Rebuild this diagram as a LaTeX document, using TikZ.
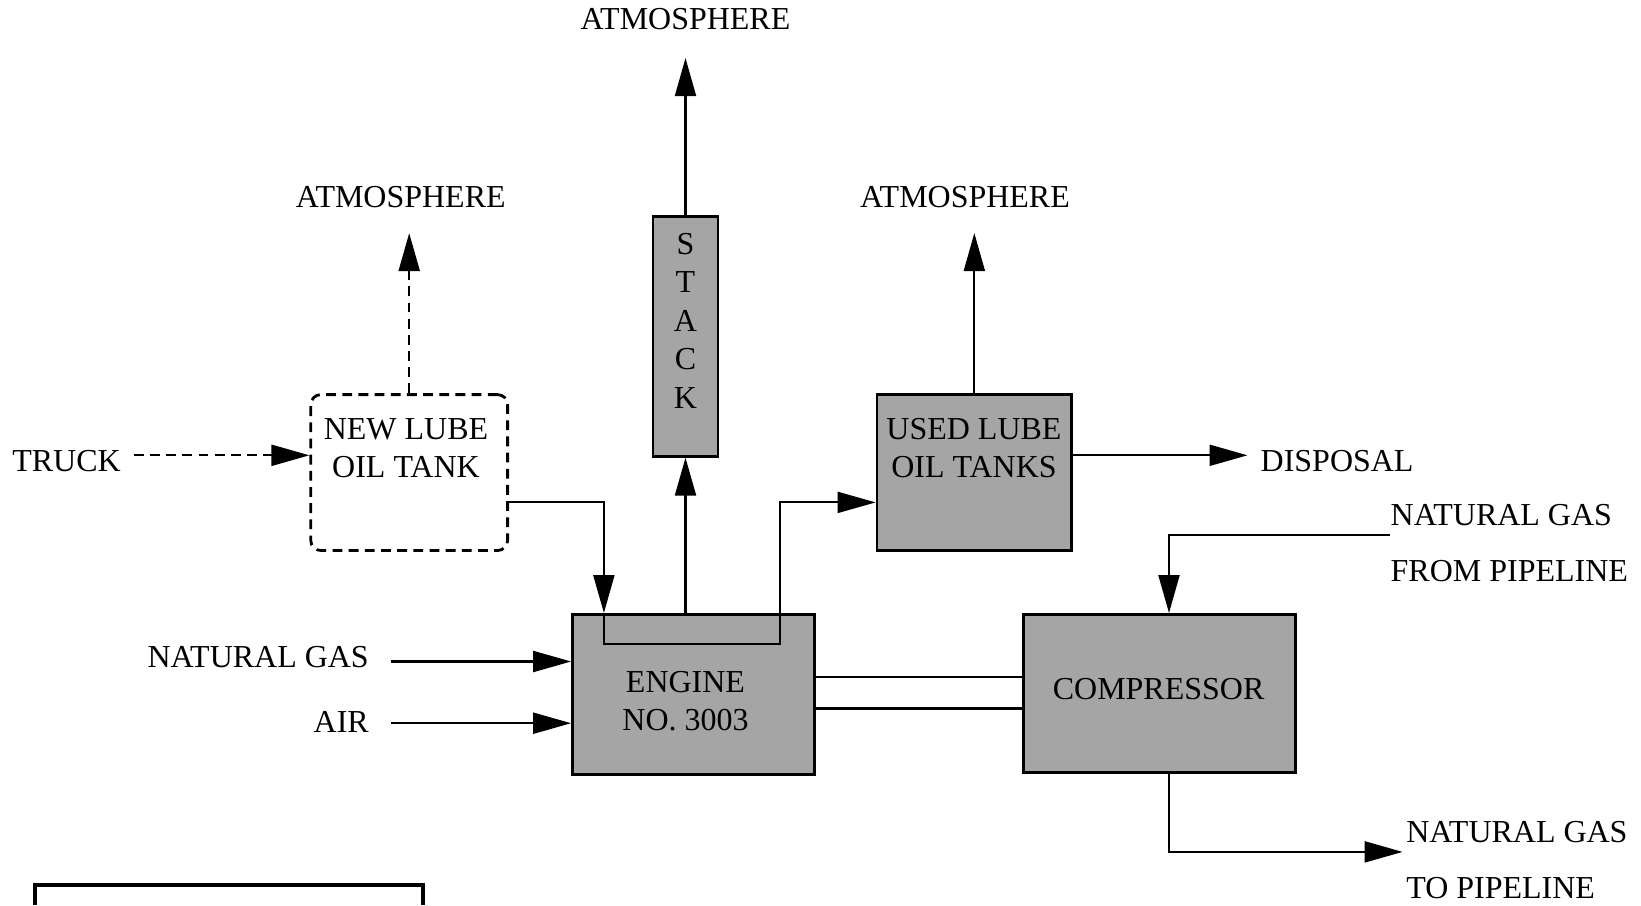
\documentclass[tikz,border=0pt]{standalone}
\usepackage{fontspec}
\setmainfont{Liberation Serif}
\usetikzlibrary{arrows.meta,positioning}
\definecolor{figG}{RGB}{165,165,165}

\begin{document}
\begin{tikzpicture}[>={Triangle[length=3.8mm,width=2.1mm]},
  unit/.style={draw,thick,fill=figG,inner sep=0pt,align=center,font=\fontsize{9.1}{10.7}\selectfont},
  lbl/.style={inner sep=0pt,text depth=0pt,align=center,font=\fontsize{9.1}{10.7}\selectfont},
  flow/.style={->,semithick},
  tankdash/.style={dash pattern=on 2.8pt off 1.8pt}]
\useasboundingbox (0,0) rectangle (16.41,9.05);
% rows and columns of the flow lines
\coordinate (truckrow) at (0,4.497);
\coordinate (oilrow) at (0,4.026);
\coordinate (gasrow) at (0,2.435);
\coordinate (airrow) at (0,1.818);
\coordinate (shaftA) at (0,2.278);
\coordinate (shaftB) at (0,1.965);
\coordinate (pipein) at (0,3.702);
\coordinate (pipeout) at (0,0.531);
\coordinate (gasx) at (11.69,0);
\coordinate (oilL) at (6.039,0);
\coordinate (oilR) at (7.797,0);
% units
\node[unit,minimum width=6.5mm,minimum height=23.97mm] (stack) at (6.855,5.686) {};
\node[lbl,font=\fontsize{9.1}{10.97}\selectfont] (stacktxt) at (6.855,5.842) {S\\T\\A\\C\\K};
\node[draw,thick,tankdash,rounded corners=1mm,inner sep=0pt,minimum width=19.68mm,minimum height=15.59mm] (newtank) at (4.092,4.3245) {};
\node[lbl] (newtxt) at (4.06,4.57) {NEW LUBE\\OIL TANK};
\node[unit,minimum width=19.47mm,minimum height=15.59mm] (usedtank) at (9.7435,4.3245) {};
\node[lbl] (usedtxt) at (9.74,4.57) {USED LUBE\\OIL TANKS};
\node[unit,minimum width=24.18mm,minimum height=16.01mm] (engine) at (6.934,2.1055) {};
\node[lbl] (enginetxt) at (6.855,2.038) {ENGINE\\NO. 3003};
\node[unit,minimum width=27.21mm,minimum height=15.8mm] (compressor) at (11.597,2.116) {};
\node[lbl] (comptxt) at (11.586,2.163) {COMPRESSOR};
% labels
\node[lbl] (atmtop) at (6.855,8.862) {ATMOSPHERE};
\node[lbl] (atmleft) at (4.008,7.082) {ATMOSPHERE};
\node[lbl] (atmright) at (9.65,7.082) {ATMOSPHERE};
\node[lbl] (truck) at (0.665,4.445) {TRUCK};
\node[lbl,anchor=west] (disposal) at (12.60,4.445) {DISPOSAL};
\node[lbl,anchor=east] (natgas) at (3.695,2.477) {NATURAL GAS};
\node[lbl,anchor=east] (air) at (3.695,1.83) {AIR};
\node[lbl,anchor=west,align=left,font=\fontsize{9.1}{15.8}\selectfont] (gasin) at (13.90,3.623) {NATURAL GAS\\FROM PIPELINE};
\node[lbl,anchor=west,align=left,font=\fontsize{9.1}{15.8}\selectfont] (gasout) at (14.056,0.4525) {NATURAL GAS\\TO PIPELINE};
% flows
\draw[flow,shorten >=2.8mm] (stack.north) -- (atmtop.south);
\draw[flow,tankdash,shorten >=2.5mm] (newtank.north) -- (newtank.north |- atmleft.south);
\draw[flow,shorten >=2.5mm] (usedtank.north) -- (usedtank.north |- atmright.south);
\draw[flow,tankdash,shorten <=1.25mm] (truck.east |- truckrow) -- (newtank.west |- truckrow);
\draw[flow,shorten >=1.25mm] (usedtank.east |- truckrow) -- (disposal.west |- truckrow);
\draw[flow] (newtank.east |- oilrow) -| (engine.north -| oilL);
\draw[semithick] (engine.north -| oilL) -- ++(0,-0.314) -| (engine.north -| oilR);
\draw[flow] (engine.north -| oilR) |- (usedtank.west |- oilrow);
\draw[flow] (engine.north -| stack.south) -- (stack.south);
\draw[flow,shorten <=2.1mm] (natgas.east |- gasrow) -- (engine.west |- gasrow);
\draw[flow,shorten <=2.1mm] (air.east |- airrow) -- (engine.west |- airrow);
\draw[semithick] (engine.east |- shaftA) -- (compressor.west |- shaftA);
\draw[semithick] (engine.east |- shaftB) -- (compressor.west |- shaftB);
\draw[flow] (gasin.west |- pipein) -| (compressor.north -| gasx);
\draw[flow,shorten >=0.3mm] (compressor.south -| gasx) |- (gasout.west |- pipeout);
% legend frame, cut by the page edge
\draw[very thick] (0.35,0) |- (4.23,0.2) -- (4.23,0);
\end{tikzpicture}
\end{document}
